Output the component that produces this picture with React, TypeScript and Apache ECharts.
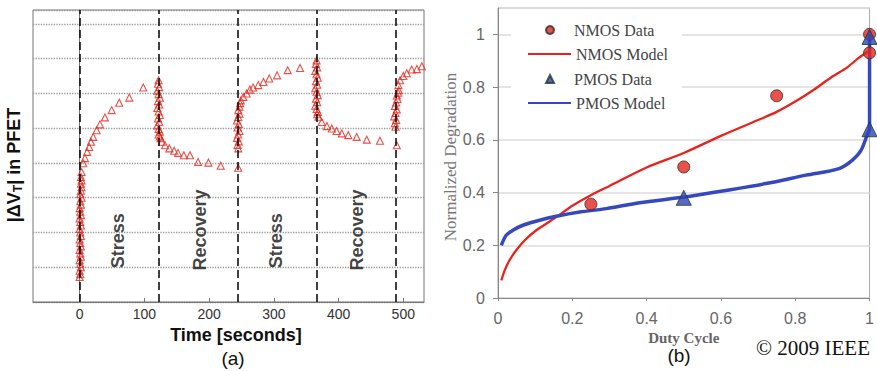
import React, { useEffect, useRef } from "react";
import * as echarts from "echarts";

// ---------- Panel (a): |ΔVT| in PFET vs time ----------
const timeTicks = [0, 100, 200, 300, 400, 500];
const phaseBoundaries = [0, 123, 245, 366, 489];
const phaseLabels: [string, number, number][] = [
  ["Stress", 59, 1.76],
  ["Recovery", 186, 2.07],
  ["Stress", 304, 1.76],
  ["Recovery", 428, 2.07],
];

const stress1Column: [number, number][] = [
  [0, 0.72], [1, 0.8], [0, 0.9], [2, 1.0], [1, 1.1], [0, 1.2], [2, 1.3], [1, 1.4], [0, 1.5], [2, 1.6],
  [1, 1.7], [0, 1.8], [2, 1.9], [1, 2.0], [0, 2.1], [2, 2.2], [1, 2.3], [0, 2.4], [2, 2.5], [1, 2.6],
  [0, 2.7], [2, 2.8], [1, 2.9], [3, 3.0], [1, 3.1], [2, 3.2], [3, 3.3], [2, 3.4], [3, 3.5], [2, 3.6],
];
const stress1Curve: [number, number][] = [
  [3.1, 3.74], [5.6, 3.99], [8.2, 4.14], [11.7, 4.32], [14.8, 4.46], [17.5, 4.61], [21, 4.75],
  [26.3, 4.94], [31.4, 5.11], [39.1, 5.31], [49.5, 5.52], [61.2, 5.73], [76.7, 5.88], [98.3, 6.17],
];
const recovery1Column: [number, number][] = [
  [122, 6.38], [121, 6.28], [123, 6.18], [120, 6.08], [122, 5.98], [124, 5.88], [121, 5.78], [123, 5.68],
  [120, 5.58], [122, 5.48], [124, 5.38], [121, 5.28], [123, 5.18], [120, 5.08], [122, 4.98], [124, 4.9],
  [122, 4.82], [124, 4.76], [125, 4.71],
];
const recovery1Tail: [number, number][] = [
  [127, 4.61], [132, 4.51], [138.5, 4.42], [146, 4.35], [152, 4.29], [161, 4.22], [170.5, 4.22],
  [183, 4.03], [199, 4.01], [218, 3.92], [245, 3.86],
];
const stress2Column: [number, number][] = [
  [245, 4.42], [244, 4.52], [246, 4.62], [243, 4.72], [245, 4.82], [247, 4.92], [244, 5.02], [246, 5.12],
  [243, 5.22], [245, 5.32], [247, 5.42], [245, 5.52], [247, 5.62], [248, 5.72], [249, 5.8],
];
const stress2Curve: [number, number][] = [
  [252.9, 5.9], [258, 6.0], [263, 6.11], [268, 6.17], [276, 6.24], [284, 6.33], [293, 6.43],
  [305, 6.52], [321.5, 6.67], [340.5, 6.73],
];
const recovery2Column: [number, number][] = [
  [366, 6.95], [365, 6.85], [367, 6.75], [364, 6.65], [366, 6.55], [368, 6.45], [365, 6.35], [367, 6.25],
  [364, 6.15], [366, 6.05], [368, 5.95], [365, 5.85], [367, 5.75], [364, 5.65], [366, 5.55], [368, 5.47],
  [367, 5.4], [369, 5.33],
];
const recovery2Tail: [number, number][] = [
  [374, 5.18], [382, 5.06], [389.5, 4.99], [397, 4.92], [405, 4.85], [415, 4.8], [428, 4.75],
  [443.6, 4.67], [464, 4.64], [490, 4.51],
];
const stress3Column: [number, number][] = [
  [488, 5.04], [487, 5.14], [489, 5.24], [486, 5.34], [488, 5.44], [490, 5.54], [487, 5.64], [489, 5.74],
  [491, 5.84], [490, 5.94], [492, 6.02], [493, 6.09],
];
const stress3Curve: [number, number][] = [
  [492.4, 6.24], [495, 6.38], [500, 6.5], [505.4, 6.58], [513, 6.69], [521, 6.7], [528.6, 6.78],
];

// ---------- Panel (b): normalized degradation vs duty cycle ----------
const nmosData: [number, number][] = [
  [0.25, 0.356], [0.5, 0.497], [0.75, 0.767], [1.0, 0.93], [1.0, 1.0],
];
const pmosData: [number, number][] = [
  [0.5, 0.38], [1.0, 0.64], [1.0, 0.99],
];
const nmosModel: [number, number][] = [
  [0.009, 0.067], [0.018, 0.105], [0.031, 0.143], [0.049, 0.181], [0.072, 0.219], [0.103, 0.257],
  [0.139, 0.29], [0.17, 0.32], [0.2, 0.35], [0.25, 0.39], [0.3, 0.425], [0.4, 0.495], [0.5, 0.55],
  [0.6, 0.615], [0.7, 0.675], [0.75, 0.706], [0.8, 0.745], [0.85, 0.79], [0.9, 0.84], [0.94, 0.875],
  [0.97, 0.91], [0.995, 0.934],
];
const pmosModel: [number, number][] = [
  [0.009, 0.2], [0.022, 0.238], [0.04, 0.257], [0.067, 0.276], [0.112, 0.295], [0.157, 0.31],
  [0.22, 0.326], [0.292, 0.339], [0.381, 0.361], [0.502, 0.383], [0.6, 0.405], [0.721, 0.434],
  [0.829, 0.466], [0.918, 0.491], [0.954, 0.523], [0.977, 0.56], [0.995, 0.624], [1.0, 0.64], [1.0, 1.0],
];

const SANS = "Liberation Sans, Arial, sans-serif";
const SERIF = "Liberation Serif, Times New Roman, serif";

export default function App() {
  const ref = useRef<HTMLDivElement>(null);

  useEffect(() => {
    if (!ref.current) return;
    const chart = echarts.init(ref.current, undefined, { renderer: "svg" });

    const pfetData = [
      ...stress1Column, ...stress1Curve, ...recovery1Column, ...recovery1Tail,
      ...stress2Column, ...stress2Curve, ...recovery2Column, ...recovery2Tail,
      ...stress3Column, ...stress3Curve,
    ];

    const legendText = { fontFamily: SERIF, fontSize: 16, color: "#444" };

    const option: any = {
      animation: false,
      backgroundColor: "#fff",
      grid: [
        { left: 33, top: 10, width: 391, height: 292, show: true, borderColor: "#777", borderWidth: 1, backgroundColor: "transparent" },
        { left: 498, top: 8, width: 372, height: 290, show: true, borderColor: "#aaa", borderWidth: 1, backgroundColor: "transparent" },
      ],
      xAxis: [
        {
          type: "value", gridIndex: 0, min: -72, max: 532,
          name: "Time [seconds]", nameLocation: "middle", nameGap: 21,
          nameTextStyle: { fontFamily: SANS, fontSize: 18, fontWeight: "bold", color: "#111", padding: [0, 0, 0, 15] },
          axisLine: { show: true, lineStyle: { color: "#777" } },
          axisTick: { show: true, inside: true, length: 4, customValues: timeTicks, lineStyle: { color: "#777" } },
          axisLabel: { show: true, customValues: timeTicks, margin: 5, fontFamily: SANS, fontSize: 14, color: "#333" },
          splitLine: { show: false },
        },
        {
          type: "value", gridIndex: 1, min: 0, max: 1, interval: 0.2,
          name: "Duty Cycle", nameLocation: "middle", nameGap: 30,
          nameTextStyle: { fontFamily: SERIF, fontSize: 15, fontWeight: "bold", color: "#666" },
          axisLine: { show: true, lineStyle: { color: "#888" } },
          axisTick: { show: true, length: 3, lineStyle: { color: "#888" } },
          axisLabel: { margin: 12, fontFamily: SANS, fontSize: 16, color: "#666" },
          splitLine: { show: false },
        },
      ],
      yAxis: [
        {
          type: "value", gridIndex: 0, min: 0, max: 8.4, interval: 1,
          name: "{a||ΔV}{b|T}{a|| in PFET}", nameLocation: "middle", nameGap: 9, nameRotate: 90,
          nameTextStyle: {
            padding: [0, 18, 0, 0],
            rich: {
              a: { fontFamily: SANS, fontSize: 18, fontWeight: "bold", color: "#111", lineHeight: 20, verticalAlign: "middle" },
              b: { fontFamily: SANS, fontSize: 12, fontWeight: "bold", color: "#111", lineHeight: 12, verticalAlign: "bottom" },
            },
          },
          axisLine: { show: true, lineStyle: { color: "#777" } },
          axisTick: { show: false },
          axisLabel: { show: false },
          splitLine: { show: true, lineStyle: { color: "#999", type: "dotted", width: 1.3 } },
        },
        {
          type: "value", gridIndex: 1, min: 0, max: 1.1, interval: 0.2,
          name: "Normalized Degradation", nameLocation: "middle", nameGap: 36, nameRotate: 90,
          nameTextStyle: { fontFamily: SERIF, fontSize: 17, color: "#777", padding: [0, 8, 0, 0] },
          axisLine: { show: true, lineStyle: { color: "#888" } },
          axisTick: { show: true, length: 5, lineStyle: { color: "#888" } },
          axisLabel: { margin: 13, fontFamily: SANS, fontSize: 16, color: "#666", showMaxLabel: false },
          splitLine: { show: true, lineStyle: { color: "#ddd", width: 1.5 } },
        },
      ],
      legend: [
        {
          data: [
            { name: "NMOS Data", icon: "circle" },
            { name: "PMOS Data", icon: "triangle" },
          ],
          orient: "vertical", left: 545, top: 22, padding: 0,
          itemWidth: 8, itemHeight: 8, itemGap: 33, z: 5,
          textStyle: { ...legendText, padding: [0, 0, 0, 15] },
        },
        {
          data: ["NMOS Model", "PMOS Model"],
          orient: "vertical", left: 527, top: 46, padding: 0,
          itemWidth: 43, itemHeight: 9, itemGap: 33, z: 5,
          itemStyle: { opacity: 0 },
          textStyle: legendText,
        },
      ],
      series: [
        {
          name: "PFET", type: "scatter", xAxisIndex: 0, yAxisIndex: 0,
          data: pfetData, symbol: "triangle", symbolSize: 7,
          itemStyle: { color: "rgba(255,255,255,0)", borderColor: "#e3261c", borderWidth: 1.1 },
          markLine: {
            silent: true, symbol: ["none", "none"], label: { show: false },
            lineStyle: { color: "#111", type: [8, 4], width: 1.6 },
            data: phaseBoundaries.map((v) => ({ xAxis: v })),
          },
        },
        {
          name: "phases", type: "scatter", xAxisIndex: 0, yAxisIndex: 0,
          data: phaseLabels.map(([label, t, u]) => ({ value: [t, u], label: { formatter: label } })),
          symbolSize: 1, itemStyle: { color: "transparent" },
          label: { show: true, position: "inside", rotate: 90, fontFamily: SANS, fontSize: 18, fontWeight: "bold", color: "#111" },
          z: 4,
        },
        {
          name: "NMOS Model", type: "line", xAxisIndex: 1, yAxisIndex: 1,
          data: nmosModel, symbol: "none", showSymbol: false, smooth: 0.3, clip: false,
          lineStyle: { color: "#e8221c", width: 2.3 }, itemStyle: { color: "#e8221c" }, z: 2,
        },
        {
          name: "PMOS Model", type: "line", xAxisIndex: 1, yAxisIndex: 1,
          data: pmosModel, symbol: "none", showSymbol: false, smooth: 0.3, clip: false,
          lineStyle: { color: "#3548c0", width: 3.5 }, itemStyle: { color: "#3548c0" }, z: 2,
        },
        {
          name: "NMOS Data", type: "scatter", xAxisIndex: 1, yAxisIndex: 1,
          data: nmosData, symbol: "circle", symbolSize: 12, clip: false,
          itemStyle: { color: "#e3261c", borderColor: "#3a2a2a", borderWidth: 1 }, z: 3,
        },
        {
          name: "PMOS Data", type: "scatter", xAxisIndex: 1, yAxisIndex: 1,
          data: pmosData, symbol: "triangle", symbolSize: 15, clip: false,
          itemStyle: { color: "#2f45b8", borderColor: "#1e3a2a", borderWidth: 1 }, z: 3,
        },
      ],
      graphic: [
        { type: "rect", z: 1, shape: { x: 511, y: 13, width: 171, height: 104 }, style: { fill: "#fff" } },
        { type: "text", x: 233, y: 358, style: { text: "(a)", font: `19px ${SANS}`, fill: "#111", align: "center", verticalAlign: "middle" } },
        { type: "text", x: 679, y: 355, style: { text: "(b)", font: `19px ${SANS}`, fill: "#111", align: "center", verticalAlign: "middle" } },
        { type: "text", x: 870, y: 348, style: { text: "© 2009 IEEE", font: `21px ${SERIF}`, fill: "#111", align: "right", verticalAlign: "middle" } },
      ],
    };

    chart.setOption(option);
    return () => chart.dispose();
  }, []);

  return <div ref={ref} style={{ position: "absolute", left: 0, top: 0, width: 877, height: 371 }} />;
}
